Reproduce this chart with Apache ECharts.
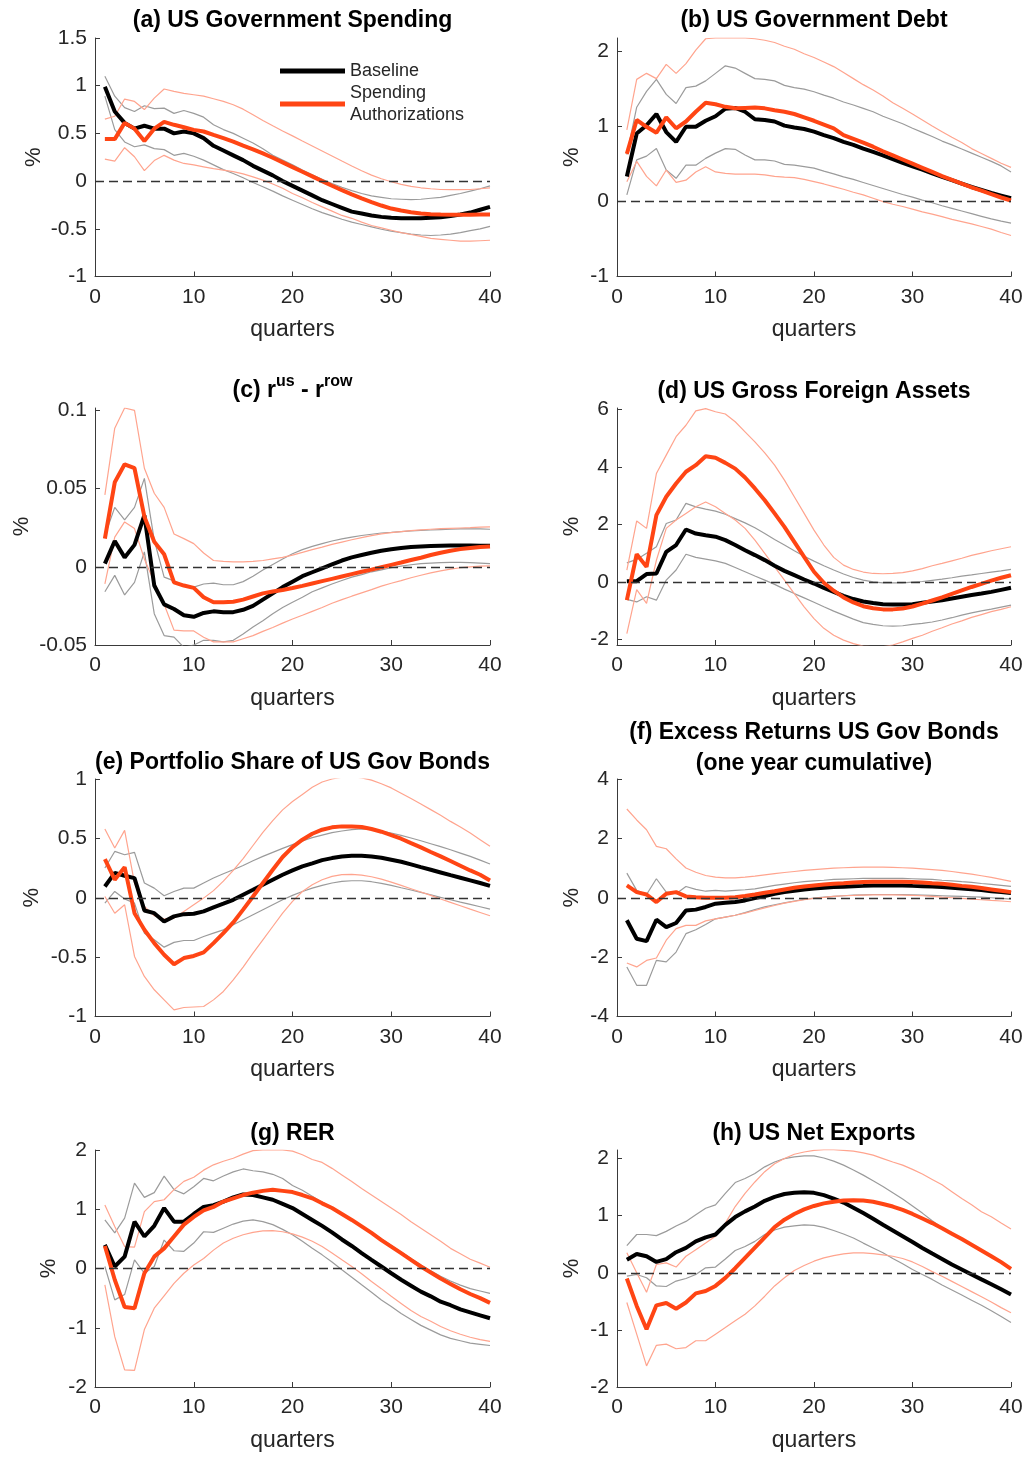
<!DOCTYPE html>
<html>
<head>
<meta charset="utf-8">
<title>Impulse responses</title>
<script src="https://cdn.jsdelivr.net/npm/echarts@6/dist/echarts.min.js"></script>
<style>
  html, body { margin: 0; padding: 0; background: #ffffff; }
  #chart { width: 1028px; height: 1457px; }
</style>
</head>
<body>
<div id="chart"></div>
<script>
// Horizon (quarters after the shock)
const quarters = [1,2,3,4,5,6,7,8,9,10,11,12,13,14,15,16,17,18,19,20,21,22,23,24,25,26,27,28,29,30,31,32,33,34,35,36,37,38,39,40];
const xTicks = [0, 10, 20, 30, 40];

// (a) US Government Spending
const aBase   = [0.99,0.73,0.61,0.55,0.58,0.55,0.55,0.50,0.52,0.50,0.45,0.37,0.32,0.27,0.22,0.16,0.11,0.06,0.00,-0.05,-0.10,-0.15,-0.20,-0.24,-0.28,-0.32,-0.34,-0.36,-0.375,-0.385,-0.39,-0.39,-0.39,-0.385,-0.38,-0.365,-0.35,-0.33,-0.30,-0.27];
const aBaseHi = [1.10,0.89,0.77,0.73,0.79,0.76,0.765,0.71,0.74,0.71,0.67,0.59,0.54,0.50,0.45,0.40,0.34,0.27,0.22,0.17,0.115,0.065,0.02,-0.025,-0.065,-0.10,-0.13,-0.155,-0.17,-0.185,-0.19,-0.195,-0.19,-0.18,-0.17,-0.15,-0.13,-0.105,-0.08,-0.05];
const aBaseLo = [0.89,0.54,0.41,0.36,0.38,0.34,0.33,0.27,0.29,0.26,0.22,0.17,0.12,0.08,0.035,-0.015,-0.06,-0.105,-0.155,-0.20,-0.245,-0.29,-0.33,-0.365,-0.40,-0.43,-0.455,-0.48,-0.505,-0.525,-0.54,-0.555,-0.565,-0.57,-0.565,-0.555,-0.54,-0.52,-0.50,-0.475];
const aSpend   = [0.44,0.44,0.61,0.55,0.42,0.55,0.62,0.59,0.565,0.537,0.52,0.484,0.45,0.414,0.372,0.333,0.29,0.245,0.196,0.147,0.098,0.049,0.0,-0.049,-0.095,-0.14,-0.182,-0.221,-0.256,-0.288,-0.309,-0.326,-0.34,-0.347,-0.351,-0.354,-0.354,-0.354,-0.351,-0.351];
const aSpendHi = [0.65,0.68,0.86,0.835,0.75,0.87,0.965,0.94,0.92,0.905,0.89,0.863,0.835,0.80,0.754,0.695,0.635,0.58,0.526,0.474,0.42,0.368,0.316,0.263,0.21,0.158,0.109,0.063,0.025,-0.007,-0.035,-0.056,-0.07,-0.08,-0.088,-0.09,-0.09,-0.088,-0.08,-0.07];
const aSpendLo = [0.23,0.21,0.35,0.255,0.11,0.215,0.27,0.22,0.185,0.17,0.15,0.13,0.115,0.10,0.075,0.045,0.01,-0.03,-0.075,-0.13,-0.175,-0.225,-0.27,-0.315,-0.36,-0.39,-0.43,-0.465,-0.49,-0.515,-0.54,-0.56,-0.58,-0.60,-0.61,-0.62,-0.63,-0.63,-0.625,-0.62];
const aTicks = [-1, -0.5, 0, 0.5, 1, 1.5];

// (b) US Government Debt
const bBase   = [0.33,0.90,1.01,1.16,0.92,0.79,0.99,0.99,1.07,1.13,1.23,1.24,1.19,1.09,1.08,1.06,1.005,0.98,0.96,0.925,0.88,0.84,0.79,0.75,0.70,0.655,0.61,0.56,0.51,0.465,0.42,0.37,0.325,0.28,0.235,0.19,0.15,0.11,0.075,0.04];
const bBaseHi = [0.62,1.25,1.46,1.62,1.42,1.30,1.51,1.53,1.60,1.70,1.80,1.77,1.70,1.63,1.62,1.60,1.54,1.51,1.49,1.455,1.41,1.37,1.32,1.28,1.235,1.19,1.13,1.08,1.03,0.97,0.915,0.86,0.80,0.75,0.695,0.64,0.585,0.53,0.47,0.39];
const bBaseLo = [0.085,0.55,0.60,0.70,0.415,0.305,0.48,0.48,0.57,0.64,0.70,0.69,0.615,0.55,0.55,0.535,0.49,0.48,0.46,0.44,0.40,0.365,0.325,0.29,0.25,0.21,0.17,0.13,0.09,0.055,0.015,-0.02,-0.06,-0.095,-0.13,-0.165,-0.20,-0.235,-0.265,-0.29];
const bSpend   = [0.63,1.08,0.99,0.91,1.115,0.97,1.06,1.19,1.31,1.29,1.255,1.235,1.24,1.245,1.235,1.21,1.19,1.16,1.115,1.07,1.02,0.97,0.88,0.83,0.78,0.725,0.665,0.61,0.555,0.50,0.445,0.39,0.335,0.285,0.235,0.185,0.14,0.095,0.05,0.01];
const bSpendHi = [0.95,1.62,1.70,1.63,1.82,1.70,1.83,2.01,2.16,2.17,2.17,2.17,2.17,2.16,2.14,2.11,2.06,2.02,1.96,1.91,1.85,1.79,1.71,1.63,1.55,1.48,1.40,1.31,1.235,1.16,1.08,1.00,0.925,0.85,0.78,0.70,0.635,0.57,0.505,0.45];
const bSpendLo = [0.26,0.53,0.33,0.205,0.415,0.25,0.28,0.39,0.46,0.39,0.37,0.36,0.36,0.36,0.35,0.33,0.32,0.315,0.29,0.26,0.23,0.195,0.16,0.12,0.085,0.04,-0.005,-0.04,-0.07,-0.105,-0.14,-0.17,-0.205,-0.24,-0.27,-0.30,-0.335,-0.37,-0.415,-0.455];
const bTicks = [-1, 0, 1, 2];

// (c) r^us - r^row
const cBase   = [0.002,0.0165,0.006,0.014,0.033,-0.012,-0.024,-0.027,-0.031,-0.032,-0.0295,-0.0285,-0.029,-0.029,-0.0275,-0.025,-0.021,-0.017,-0.013,-0.0095,-0.006,-0.0035,-0.001,0.0015,0.004,0.006,0.0075,0.009,0.0103,0.0112,0.012,0.0126,0.013,0.0133,0.0135,0.0136,0.0136,0.0136,0.0135,0.0134];
const cBaseHi = [0.02,0.038,0.03,0.038,0.0565,0.017,-0.0066,-0.009,-0.012,-0.013,-0.011,-0.0105,-0.0115,-0.0115,-0.0095,-0.006,-0.002,0.0015,0.005,0.0083,0.011,0.013,0.0148,0.0165,0.0178,0.019,0.020,0.0208,0.0216,0.022,0.0225,0.0229,0.0233,0.0235,0.0238,0.024,0.0242,0.0242,0.0242,0.024];
const cBaseLo = [-0.016,-0.0055,-0.018,-0.01,0.0095,-0.030,-0.044,-0.045,-0.0515,-0.050,-0.047,-0.047,-0.048,-0.047,-0.043,-0.0385,-0.0345,-0.030,-0.026,-0.0227,-0.0195,-0.016,-0.0135,-0.011,-0.0088,-0.0066,-0.005,-0.0032,-0.002,-0.0006,0.0004,0.0013,0.002,0.0024,0.0026,0.0028,0.0028,0.0026,0.0024,0.002];
const cSpend   = [0.018,0.054,0.0655,0.063,0.032,0.016,0.008,-0.010,-0.012,-0.0135,-0.0195,-0.0227,-0.0227,-0.0223,-0.021,-0.019,-0.017,-0.0158,-0.0148,-0.0136,-0.0122,-0.0107,-0.0092,-0.0077,-0.0062,-0.0047,-0.0032,-0.0018,-0.0003,0.0012,0.0027,0.0043,0.0058,0.0075,0.009,0.0103,0.0113,0.012,0.0126,0.013];
const cSpendHi = [0.046,0.0886,0.1015,0.100,0.063,0.047,0.038,0.021,0.018,0.0148,0.0088,0.004,0.0034,0.0032,0.0032,0.0034,0.004,0.005,0.006,0.0075,0.0092,0.011,0.0126,0.0143,0.0158,0.0173,0.0186,0.0199,0.021,0.0218,0.0225,0.0231,0.0236,0.024,0.0244,0.0246,0.0248,0.025,0.0253,0.0255];
const cSpendLo = [-0.011,0.019,0.0287,0.0244,0.005,-0.0098,-0.024,-0.0405,-0.041,-0.041,-0.045,-0.048,-0.048,-0.048,-0.046,-0.044,-0.0413,-0.0388,-0.036,-0.0334,-0.031,-0.0285,-0.026,-0.0233,-0.021,-0.0188,-0.0167,-0.0146,-0.0124,-0.0105,-0.0088,-0.007,-0.0054,-0.0039,-0.0026,-0.0015,-0.0006,0.0,0.0004,0.0006];
const cTicks = [-0.05, 0, 0.05, 0.1];

// (d) US Gross Foreign Assets
const dBase   = [0.02,0.02,0.27,0.29,1.04,1.28,1.82,1.68,1.62,1.57,1.45,1.28,1.10,0.93,0.755,0.56,0.38,0.23,0.08,-0.06,-0.21,-0.35,-0.49,-0.60,-0.685,-0.74,-0.78,-0.79,-0.79,-0.78,-0.73,-0.685,-0.64,-0.58,-0.52,-0.46,-0.41,-0.35,-0.28,-0.21];
const dBaseHi = [0.66,0.78,0.99,1.22,2.03,2.15,2.73,2.61,2.53,2.46,2.35,2.20,2.05,1.88,1.68,1.47,1.28,1.08,0.89,0.72,0.56,0.41,0.27,0.15,0.06,0.0,-0.035,-0.035,-0.035,-0.01,0.01,0.05,0.09,0.14,0.20,0.24,0.29,0.34,0.38,0.43];
const dBaseLo = [-0.61,-0.70,-0.52,-0.64,0.06,0.41,0.96,0.85,0.79,0.73,0.64,0.50,0.35,0.20,0.06,-0.09,-0.255,-0.41,-0.56,-0.71,-0.87,-1.02,-1.16,-1.30,-1.42,-1.485,-1.53,-1.545,-1.53,-1.485,-1.45,-1.40,-1.33,-1.25,-1.16,-1.08,-1.01,-0.95,-0.88,-0.81];
const dSpend   = [-0.64,0.96,0.52,2.32,2.96,3.42,3.83,4.06,4.37,4.32,4.14,3.94,3.63,3.25,2.84,2.38,1.91,1.39,0.87,0.35,-0.035,-0.31,-0.545,-0.72,-0.85,-0.92,-0.96,-0.96,-0.93,-0.86,-0.76,-0.65,-0.54,-0.42,-0.30,-0.18,-0.07,0.04,0.14,0.23];
const dSpendHi = [0.41,2.12,1.86,3.77,4.41,5.05,5.45,5.95,6.03,5.92,5.84,5.57,5.22,4.87,4.49,4.06,3.54,2.96,2.38,1.80,1.28,0.85,0.58,0.43,0.34,0.29,0.28,0.29,0.32,0.38,0.46,0.56,0.64,0.73,0.82,0.92,1.00,1.08,1.15,1.22];
const dSpendLo = [-1.80,-0.27,-0.75,0.75,1.86,2.15,2.38,2.61,2.78,2.61,2.38,2.15,1.86,1.45,0.99,0.52,0.06,-0.41,-0.87,-1.28,-1.62,-1.86,-2.03,-2.15,-2.24,-2.26,-2.26,-2.20,-2.09,-1.97,-1.86,-1.72,-1.60,-1.47,-1.36,-1.24,-1.14,-1.04,-0.96,-0.87];
const dTicks = [-2, 0, 2, 4, 6];

// (e) Portfolio Share of US Gov Bonds
const eBase   = [0.095,0.21,0.185,0.165,-0.107,-0.13,-0.20,-0.157,-0.138,-0.135,-0.115,-0.081,-0.05,-0.017,0.025,0.067,0.11,0.152,0.194,0.23,0.264,0.29,0.317,0.334,0.348,0.354,0.354,0.348,0.337,0.32,0.303,0.281,0.258,0.236,0.213,0.19,0.168,0.146,0.124,0.10];
const eBaseHi = [0.25,0.39,0.362,0.382,0.124,0.081,0.017,0.053,0.081,0.081,0.124,0.166,0.202,0.236,0.272,0.312,0.348,0.382,0.416,0.447,0.478,0.506,0.528,0.548,0.562,0.573,0.579,0.573,0.562,0.545,0.525,0.503,0.48,0.455,0.43,0.404,0.376,0.348,0.317,0.284];
const eBaseLo = [-0.045,0.053,-0.011,-0.045,-0.298,-0.354,-0.416,-0.376,-0.36,-0.36,-0.326,-0.298,-0.27,-0.228,-0.185,-0.143,-0.101,-0.059,-0.017,0.02,0.053,0.081,0.104,0.124,0.138,0.143,0.143,0.135,0.121,0.104,0.084,0.065,0.045,0.025,0.003,-0.017,-0.037,-0.056,-0.076,-0.096];
const eSpend   = [0.326,0.152,0.258,-0.13,-0.27,-0.382,-0.48,-0.56,-0.508,-0.49,-0.46,-0.382,-0.298,-0.208,-0.10,0.011,0.124,0.236,0.343,0.427,0.489,0.539,0.573,0.593,0.601,0.601,0.596,0.579,0.556,0.528,0.497,0.46,0.424,0.385,0.348,0.309,0.27,0.23,0.194,0.146];
const eSpendHi = [0.579,0.419,0.567,0.124,-0.073,-0.152,-0.18,-0.171,-0.115,-0.059,-0.003,0.06,0.14,0.23,0.33,0.44,0.55,0.65,0.74,0.81,0.87,0.93,0.975,1.0,1.015,1.02,1.01,0.99,0.96,0.925,0.88,0.835,0.789,0.742,0.694,0.643,0.596,0.545,0.489,0.433];
const eSpendLo = [0.011,-0.13,-0.059,-0.494,-0.663,-0.775,-0.86,-0.944,-0.924,-0.92,-0.916,-0.86,-0.789,-0.691,-0.584,-0.466,-0.354,-0.242,-0.13,-0.031,0.053,0.11,0.152,0.18,0.194,0.197,0.191,0.177,0.157,0.132,0.104,0.076,0.048,0.02,-0.011,-0.039,-0.067,-0.096,-0.124,-0.152];
const eTicks = [-1, -0.5, 0, 0.5, 1];

// (f) Excess Returns US Gov Bonds (one year cumulative)
const fBase   = [-0.76,-1.38,-1.46,-0.74,-0.99,-0.85,-0.43,-0.40,-0.31,-0.20,-0.17,-0.146,-0.09,-0.01,0.056,0.135,0.19,0.235,0.28,0.31,0.336,0.36,0.37,0.39,0.40,0.415,0.415,0.415,0.415,0.40,0.39,0.38,0.36,0.336,0.31,0.29,0.26,0.22,0.19,0.157];
const fBaseHi = [0.83,0.25,0.11,0.64,0.19,0.135,0.38,0.28,0.22,0.25,0.22,0.25,0.27,0.30,0.36,0.415,0.46,0.505,0.54,0.57,0.59,0.62,0.63,0.64,0.65,0.65,0.65,0.65,0.65,0.64,0.63,0.62,0.59,0.57,0.54,0.515,0.48,0.45,0.415,0.38];
const fBaseLo = [-2.33,-2.95,-2.95,-2.11,-2.16,-1.83,-1.21,-1.08,-0.90,-0.71,-0.65,-0.59,-0.50,-0.40,-0.31,-0.235,-0.17,-0.11,-0.056,-0.01,0.02,0.045,0.067,0.09,0.10,0.11,0.11,0.11,0.11,0.10,0.09,0.078,0.067,0.056,0.045,0.034,0.022,0.0,-0.022,-0.045];
const fSpend   = [0.415,0.19,0.11,-0.146,0.135,0.19,0.045,0.02,0.0,0.0,0.0,0.02,0.056,0.11,0.17,0.22,0.28,0.336,0.38,0.415,0.45,0.47,0.49,0.515,0.527,0.538,0.538,0.538,0.538,0.527,0.515,0.49,0.47,0.44,0.40,0.37,0.325,0.28,0.235,0.19];
const fSpendHi = [2.99,2.62,2.29,1.73,1.65,1.31,1.00,0.86,0.75,0.695,0.67,0.67,0.695,0.73,0.77,0.81,0.85,0.885,0.92,0.95,0.975,1.00,1.01,1.02,1.03,1.03,1.03,1.02,1.01,1.00,0.975,0.95,0.92,0.885,0.84,0.795,0.74,0.685,0.62,0.55];
const fSpendLo = [-2.20,-2.33,-2.11,-2.03,-1.43,-1.04,-0.93,-0.93,-0.78,-0.71,-0.65,-0.59,-0.52,-0.43,-0.34,-0.26,-0.18,-0.12,-0.067,-0.022,0.01,0.045,0.067,0.078,0.09,0.10,0.10,0.10,0.09,0.078,0.067,0.045,0.022,0.0,-0.022,-0.045,-0.067,-0.09,-0.11,-0.135];
const fTicks = [-4, -2, 0, 2, 4];

// (g) RER
const gBase   = [0.40,0.034,0.20,0.79,0.54,0.72,1.02,0.79,0.79,0.92,1.04,1.07,1.13,1.20,1.25,1.24,1.20,1.16,1.09,1.02,0.92,0.82,0.72,0.61,0.49,0.38,0.26,0.146,0.034,-0.08,-0.19,-0.29,-0.39,-0.47,-0.56,-0.62,-0.69,-0.74,-0.79,-0.84];
const gBaseHi = [0.82,0.60,0.85,1.44,1.20,1.28,1.56,1.33,1.26,1.38,1.52,1.48,1.56,1.63,1.68,1.65,1.63,1.59,1.52,1.40,1.32,1.22,1.12,1.03,0.93,0.83,0.72,0.61,0.50,0.39,0.28,0.17,0.06,-0.04,-0.13,-0.21,-0.28,-0.34,-0.38,-0.42];
const gBaseLo = [0.034,-0.53,-0.44,0.146,-0.08,0.034,0.48,0.30,0.29,0.43,0.62,0.61,0.68,0.75,0.80,0.82,0.79,0.74,0.66,0.57,0.46,0.34,0.23,0.11,-0.022,-0.146,-0.275,-0.40,-0.53,-0.64,-0.76,-0.86,-0.96,-1.04,-1.12,-1.18,-1.22,-1.26,-1.28,-1.30];
const gSpend   = [0.38,-0.19,-0.65,-0.67,-0.08,0.20,0.34,0.54,0.74,0.87,0.98,1.04,1.13,1.185,1.24,1.28,1.31,1.33,1.31,1.29,1.24,1.185,1.10,1.02,0.92,0.82,0.71,0.60,0.48,0.37,0.26,0.146,0.034,-0.067,-0.17,-0.26,-0.35,-0.43,-0.50,-0.58];
const gSpendHi = [1.07,0.71,0.37,0.36,0.96,1.13,1.16,1.33,1.47,1.54,1.66,1.75,1.81,1.86,1.93,1.99,2.00,2.00,2.00,1.98,1.92,1.84,1.79,1.69,1.58,1.47,1.35,1.24,1.13,1.02,0.91,0.79,0.68,0.57,0.46,0.34,0.25,0.157,0.09,0.022];
const gSpendLo = [-0.275,-1.15,-1.71,-1.72,-1.03,-0.67,-0.46,-0.25,-0.08,0.06,0.17,0.31,0.43,0.51,0.57,0.61,0.635,0.64,0.62,0.585,0.53,0.46,0.37,0.26,0.146,0.034,-0.09,-0.22,-0.34,-0.47,-0.59,-0.71,-0.81,-0.89,-0.98,-1.05,-1.11,-1.16,-1.20,-1.23];
const gTicks = [-2, -1, 0, 1, 2];

// (h) US Net Exports
const hBase   = [0.23,0.33,0.29,0.19,0.24,0.36,0.435,0.55,0.62,0.67,0.84,0.975,1.075,1.16,1.26,1.33,1.38,1.40,1.41,1.40,1.36,1.30,1.23,1.14,1.045,0.945,0.84,0.74,0.64,0.54,0.435,0.336,0.243,0.145,0.058,-0.03,-0.116,-0.20,-0.29,-0.38];
const hBaseHi = [0.475,0.67,0.67,0.65,0.725,0.82,0.90,1.015,1.13,1.19,1.39,1.58,1.65,1.74,1.855,1.94,2.00,2.03,2.046,2.046,2.01,1.955,1.885,1.80,1.71,1.61,1.51,1.40,1.29,1.17,1.045,0.91,0.79,0.68,0.58,0.48,0.385,0.285,0.18,0.065];
const hBaseLo = [-0.06,-0.03,-0.087,-0.23,-0.24,-0.145,-0.10,-0.03,0.087,0.10,0.24,0.39,0.46,0.55,0.67,0.75,0.80,0.82,0.84,0.83,0.795,0.74,0.68,0.61,0.52,0.435,0.35,0.25,0.157,0.058,-0.03,-0.116,-0.215,-0.30,-0.39,-0.48,-0.57,-0.665,-0.765,-0.87];
const hSpend   = [-0.10,-0.58,-0.99,-0.57,-0.53,-0.63,-0.52,-0.36,-0.32,-0.23,-0.09,0.08,0.26,0.44,0.62,0.80,0.93,1.03,1.11,1.17,1.215,1.245,1.265,1.27,1.265,1.245,1.205,1.16,1.10,1.03,0.95,0.87,0.78,0.685,0.59,0.49,0.39,0.29,0.186,0.07];
const hSpendHi = [0.35,0.0,-0.34,0.145,0.174,0.10,0.29,0.405,0.52,0.64,0.87,1.16,1.39,1.59,1.77,1.91,2.00,2.075,2.115,2.145,2.155,2.155,2.145,2.13,2.10,2.06,2.00,1.94,1.885,1.81,1.73,1.635,1.54,1.42,1.30,1.19,1.07,0.98,0.87,0.765];
const hSpendLo = [-0.52,-1.075,-1.63,-1.27,-1.25,-1.33,-1.31,-1.19,-1.19,-1.075,-0.96,-0.84,-0.725,-0.58,-0.41,-0.23,-0.087,0.04,0.128,0.203,0.26,0.30,0.33,0.35,0.35,0.336,0.313,0.29,0.25,0.19,0.11,0.02,-0.06,-0.15,-0.24,-0.33,-0.42,-0.51,-0.61,-0.70];
const hTicks = [-2, -1, 0, 1, 2];

// ---- styling and layout ----
const FONT = '"Liberation Sans", Arial, Helvetica, sans-serif';
const AXIS_COLOR = '#3a3a3a';
const TEXT_COLOR = '#262626';
const BASE_COLOR = '#000000';
const SPEND_COLOR = '#ff4514';
const BASE_BAND = '#9b9b9b';
const SPEND_BAND = '#ffa48e';

const colLeft = [95, 617];
const colWidth = [395, 394];
const rowTop = [38, 408, 779, 1150];
const rowHeight = [238.5, 237, 237.5, 237];

const panels = [
  { title: '(a) US Government Spending', base: aBase, baseHi: aBaseHi, baseLo: aBaseLo, spend: aSpend, spendHi: aSpendHi, spendLo: aSpendLo, ticks: aTicks, min: -1, max: 1.5, col: 0, row: 0, titleY: 21, pctGap: 50 },
  { title: '(b) US Government Debt', base: bBase, baseHi: bBaseHi, baseLo: bBaseLo, spend: bSpend, spendHi: bSpendHi, spendLo: bSpendLo, ticks: bTicks, min: -1, max: 2.17, col: 1, row: 0, titleY: 21, pctGap: 34 },
  { title: '(c) r{sup|us} - r{sup|row}', rich: true, base: cBase, baseHi: cBaseHi, baseLo: cBaseLo, spend: cSpend, spendHi: cSpendHi, spendLo: cSpendLo, ticks: cTicks, min: -0.05, max: 0.1015, col: 0, row: 1, titleY: 391, pctGap: 62 },
  { title: '(d) US Gross Foreign Assets', base: dBase, baseHi: dBaseHi, baseLo: dBaseLo, spend: dSpend, spendHi: dSpendHi, spendLo: dSpendLo, ticks: dTicks, min: -2.2, max: 6.05, col: 1, row: 1, titleY: 392, pctGap: 34 },
  { title: '(e) Portfolio Share of US Gov Bonds', base: eBase, baseHi: eBaseHi, baseLo: eBaseLo, spend: eSpend, spendHi: eSpendHi, spendLo: eSpendLo, ticks: eTicks, min: -1, max: 1, col: 0, row: 2, titleY: 763, pctGap: 52 },
  { title: '(f) Excess Returns US Gov Bonds\n(one year cumulative)', base: fBase, baseHi: fBaseHi, baseLo: fBaseLo, spend: fSpend, spendHi: fSpendHi, spendLo: fSpendLo, ticks: fTicks, min: -4, max: 4, col: 1, row: 2, titleY: 748, pctGap: 34 },
  { title: '(g) RER', base: gBase, baseHi: gBaseHi, baseLo: gBaseLo, spend: gSpend, spendHi: gSpendHi, spendLo: gSpendLo, ticks: gTicks, min: -2, max: 2, col: 0, row: 3, titleY: 1134, pctGap: 35 },
  { title: '(h) US Net Exports', base: hBase, baseHi: hBaseHi, baseLo: hBaseLo, spend: hSpend, spendHi: hSpendHi, spendLo: hSpendLo, ticks: hTicks, min: -2, max: 2.15, col: 1, row: 3, titleY: 1134, pctGap: 34 }
];

const pairs = arr => quarters.map((q, k) => [q, arr[k]]);

const grid = [], xAxis = [], yAxis = [], series = [], title = [];

panels.forEach((p, i) => {
  const left = colLeft[p.col], width = colWidth[p.col];
  grid.push({ left: left, top: rowTop[p.row], width: width, height: rowHeight[p.row], containLabel: false });

  title.push({
    text: p.title,
    left: left + width / 2,
    top: p.titleY,
    textAlign: 'center',
    textVerticalAlign: 'middle',
    padding: 0,
    textStyle: p.rich ? {
      fontFamily: FONT, fontSize: 23, fontWeight: 'bold', color: '#000', lineHeight: 34,
      rich: { sup: { fontFamily: FONT, fontSize: 16, fontWeight: 'bold', color: '#000', lineHeight: 16, verticalAlign: 'top' } }
    } : { fontFamily: FONT, fontSize: 23, fontWeight: 'bold', color: '#000', lineHeight: 31 }
  });

  xAxis.push({
    gridIndex: i, type: 'value', min: 0, max: 40, interval: 10,
    name: 'quarters', nameLocation: 'middle', nameGap: 42,
    nameTextStyle: { fontFamily: FONT, fontSize: 23, color: TEXT_COLOR },
    axisLine: { show: true, onZero: false, lineStyle: { color: AXIS_COLOR, width: 1 } },
    axisTick: { show: true, inside: true, length: 5, lineStyle: { color: AXIS_COLOR } },
    axisLabel: { fontFamily: FONT, fontSize: 21, color: TEXT_COLOR, margin: 10, customValues: xTicks },
    splitLine: { show: false }
  });

  yAxis.push({
    gridIndex: i, type: 'value', min: p.min, max: p.max,
    name: '%', nameLocation: 'middle', nameGap: p.pctGap,
    nameTextStyle: { fontFamily: FONT, fontSize: 22, color: TEXT_COLOR },
    axisLine: { show: true, onZero: false, lineStyle: { color: AXIS_COLOR, width: 1 } },
    axisTick: { show: true, inside: true, length: 5, lineStyle: { color: AXIS_COLOR }, customValues: p.ticks },
    axisLabel: { fontFamily: FONT, fontSize: 21, color: TEXT_COLOR, margin: 8, customValues: p.ticks },
    splitLine: { show: false }
  });

  const common = { type: 'line', xAxisIndex: i, yAxisIndex: i, symbol: 'none', showSymbol: false, smooth: false, animation: false, emphasis: { disabled: true }, silent: true, clip: true };

  series.push(Object.assign({}, common, {
    name: 'baseline band ' + i + ' hi', data: pairs(p.baseHi), lineStyle: { color: BASE_BAND, width: 1.2 },
    markLine: {
      silent: true, symbol: ['none', 'none'], label: { show: false }, animation: false,
      lineStyle: { color: '#333333', width: 1.3, type: [9, 5] },
      data: [{ yAxis: 0 }]
    }
  }));
  series.push(Object.assign({}, common, { name: 'baseline band ' + i + ' lo', data: pairs(p.baseLo), lineStyle: { color: BASE_BAND, width: 1.2 } }));
  series.push(Object.assign({}, common, { name: 'spending band ' + i + ' hi', data: pairs(p.spendHi), lineStyle: { color: SPEND_BAND, width: 1.2 } }));
  series.push(Object.assign({}, common, { name: 'spending band ' + i + ' lo', data: pairs(p.spendLo), lineStyle: { color: SPEND_BAND, width: 1.2 } }));
  series.push(Object.assign({}, common, { name: 'Baseline', data: pairs(p.base), color: BASE_COLOR, itemStyle: { color: BASE_COLOR }, lineStyle: { color: BASE_COLOR, width: 4 } }));
  series.push(Object.assign({}, common, { name: 'Spending Authorizations', data: pairs(p.spend), color: SPEND_COLOR, itemStyle: { color: SPEND_COLOR }, lineStyle: { color: SPEND_COLOR, width: 4 } }));
});

const chart = echarts.init(document.getElementById('chart'), null, { renderer: 'canvas' });
chart.setOption({
  animation: false,
  backgroundColor: '#ffffff',
  textStyle: { fontFamily: FONT },
  title: title,
  grid: grid,
  xAxis: xAxis,
  yAxis: yAxis,
  legend: {
    data: [{ name: 'Baseline', icon: 'rect' }, { name: 'Spending Authorizations', icon: 'rect' }],
    orient: 'vertical', left: 280, top: 60,
    itemWidth: 65, itemHeight: 5, itemGap: 0, padding: 0,
    selectedMode: false,
    formatter: name => name === 'Spending Authorizations' ? 'Spending\nAuthorizations' : name,
    textStyle: { fontFamily: FONT, fontSize: 18, color: TEXT_COLOR, lineHeight: 22 }
  },
  series: series
});
</script>
</body>
</html>
